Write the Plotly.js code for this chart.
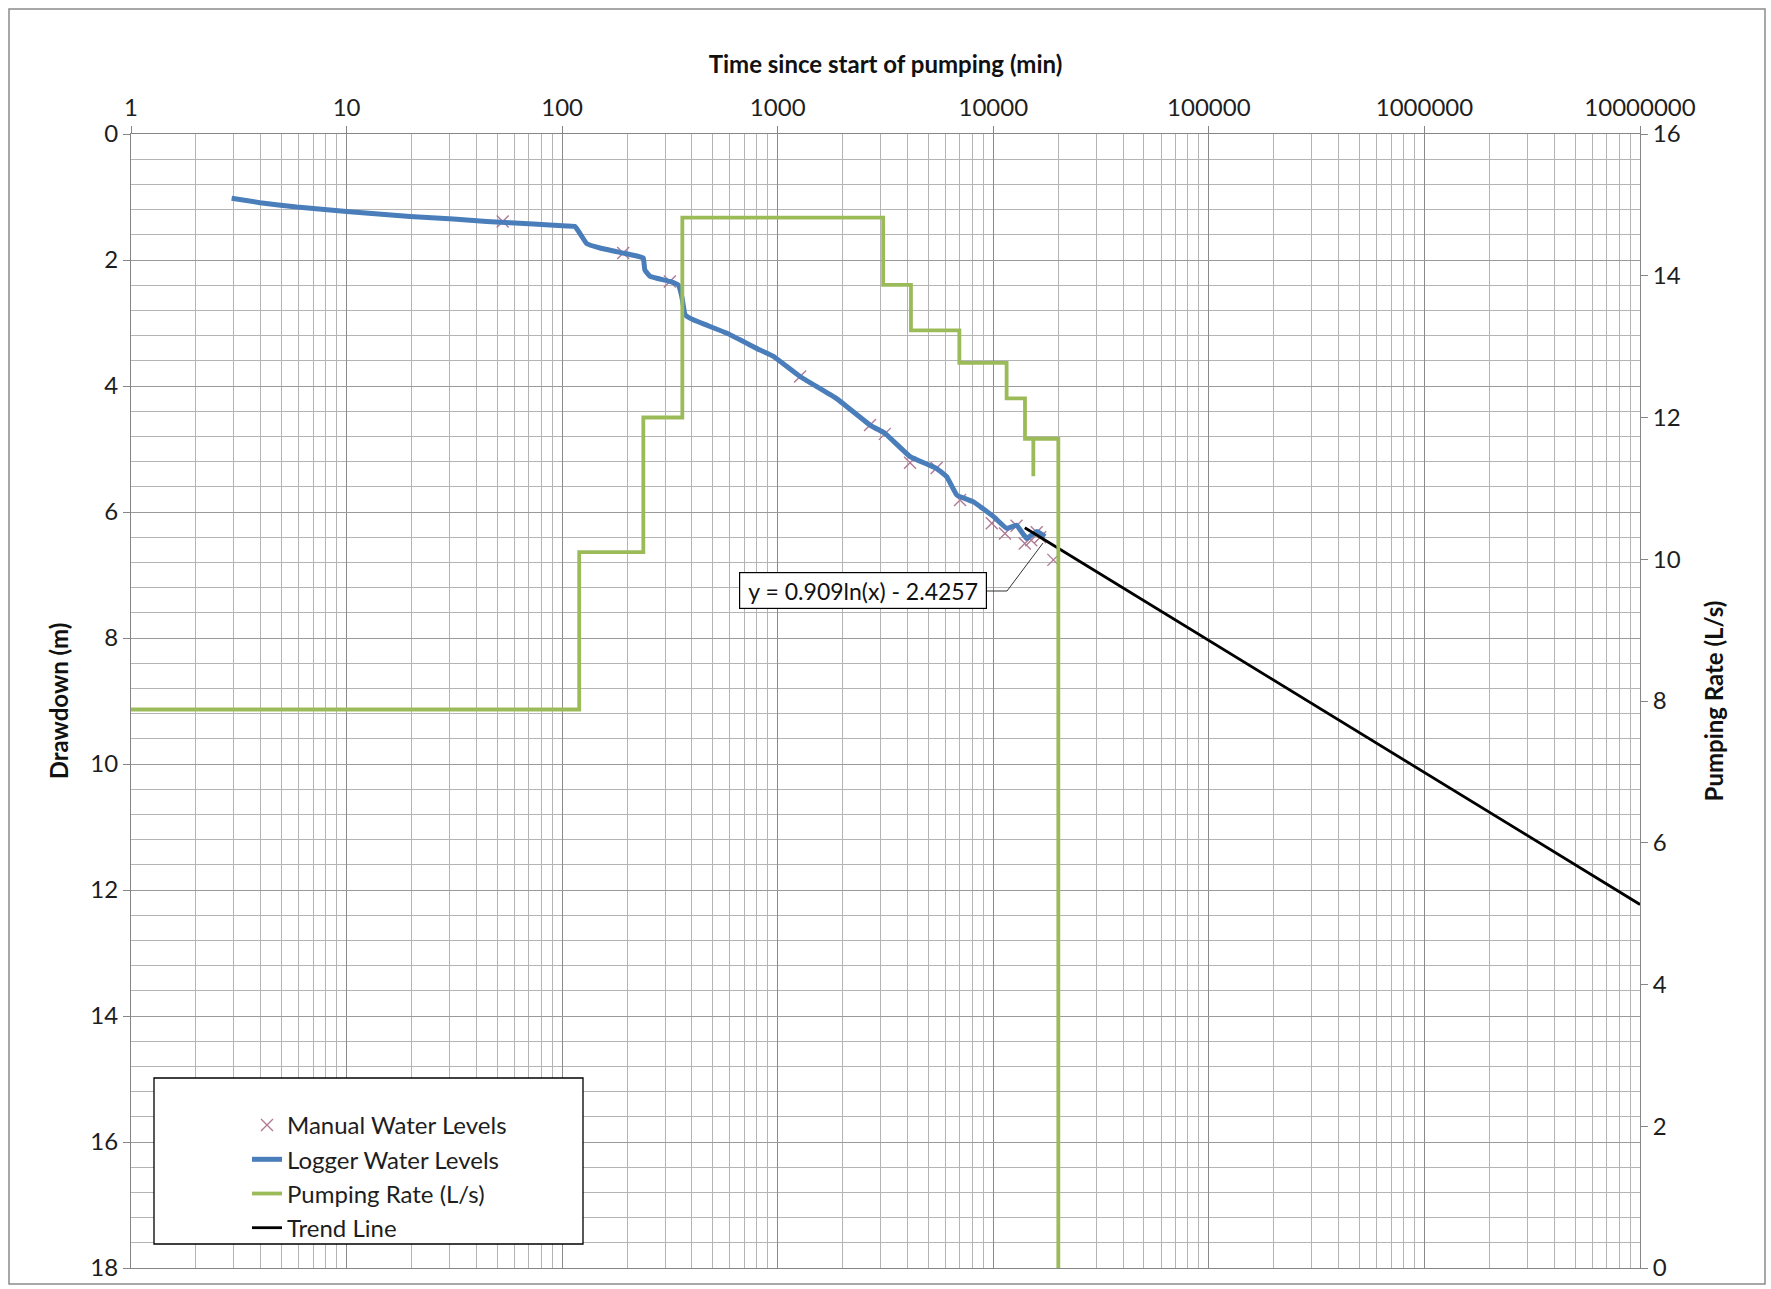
<!DOCTYPE html>
<html>
<head>
<meta charset="utf-8">
<script src="https://cdn.plot.ly/plotly-3.0.1.min.js"></script>
<style>html,body{margin:0;padding:0;background:#fff;}#chart{width:1771px;height:1289px;}</style>
</head>
<body>
<div id="chart"></div>
<script>
// ---- Data ----
const loggerTime = [2.93, 3.97, 5.87, 10, 19.7, 31.3, 44.7, 73.5, 105, 115, 121, 130, 150, 192, 230, 238, 242, 256, 316, 346, 359, 372, 406, 579, 828, 955, 1269, 1876, 2680, 3140, 4110, 5460, 6080, 6770, 8090, 10000, 11540, 12820, 14290, 15900, 17380];
const loggerDrawdown = [1.02, 1.09, 1.16, 1.23, 1.31, 1.35, 1.39, 1.43, 1.46, 1.47, 1.58, 1.74, 1.81, 1.89, 1.95, 1.97, 2.16, 2.26, 2.34, 2.40, 2.58, 2.87, 2.95, 3.16, 3.43, 3.53, 3.85, 4.20, 4.62, 4.75, 5.12, 5.31, 5.44, 5.73, 5.84, 6.07, 6.26, 6.21, 6.42, 6.31, 6.39];

const manualTime = [53, 192, 316, 1270, 2680, 3140, 4110, 5460, 7010, 9840, 11330, 12820, 14000, 15000, 15900, 16500, 19000];
const manualDrawdown = [1.39, 1.89, 2.34, 3.85, 4.62, 4.76, 5.22, 5.30, 5.81, 6.18, 6.34, 6.22, 6.50, 6.45, 6.32, 6.40, 6.76];

const pumpTime = [1, 120, 120, 238, 238, 361, 361, 3085, 3085, 4150, 4150, 6960, 6960, 11530, 11530, 14030, 14030, 15340, 15340, 15340, 20030, 20030];
const pumpRate = [7.88, 7.88, 10.1, 10.1, 12.0, 12.0, 14.82, 14.82, 13.87, 13.87, 13.23, 13.23, 12.77, 12.77, 12.27, 12.27, 11.7, 11.7, 11.17, 11.7, 11.7, 0];

const trendTime = [14000, 100000, 1000000, 10000000];
const trendDrawdown = [6.25, 8.04, 10.13, 12.23];

const xTickVals = [1, 10, 100, 1000, 10000, 100000, 1000000, 10000000];
const xTickText = ['1', '10', '100', '1000', '10000', '100000', '1000000', '10000000'];
const yLeftTicks = [0, 2, 4, 6, 8, 10, 12, 14, 16, 18];
const yRightTicks = [0, 2, 4, 6, 8, 10, 12, 14, 16];

const equationText = 'y = 0.909ln(x) - 2.4257';

// ---- Chart ----
const FONT = 'Lato, "Open Sans", sans-serif';
const AXIS_GRAY = '#868686';
const TXT = '#1e1e1e';

const traces = [
  {
    name: 'Manual Water Levels', x: manualTime, y: manualDrawdown,
    type: 'scatter', mode: 'markers', yaxis: 'y',
    marker: {symbol: 'x-thin-open', size: 12, color: '#b07a95', line: {width: 1.4, color: '#b07a95'}}
  },
  {
    name: 'Logger Water Levels', x: loggerTime, y: loggerDrawdown,
    type: 'scatter', mode: 'lines', yaxis: 'y',
    line: {color: '#4a7ebb', width: 5, shape: 'spline', smoothing: 0.3}
  },
  {
    name: 'Pumping Rate (L/s)', x: pumpTime, y: pumpRate,
    type: 'scatter', mode: 'lines', yaxis: 'y2',
    line: {color: '#9bbb59', width: 3.8}
  },
  {
    name: 'Trend Line', x: trendTime, y: trendDrawdown,
    type: 'scatter', mode: 'lines', yaxis: 'y',
    line: {color: '#000000', width: 2.8}
  }
];

const PX = {l: 131, r: 1640, t: 134, b: 1268};
const W = PX.r - PX.l, H = PX.b - PX.t;
const px2paperX = x => (x - PX.l) / W;
const px2paperY = y => (PX.b - y) / H;

const layout = {
  width: 1771, height: 1289,
  margin: {l: 131, r: 131, t: 134, b: 21, pad: 0},
  paper_bgcolor: '#ffffff', plot_bgcolor: '#ffffff',
  font: {family: FONT, size: 24, color: TXT},
  showlegend: true,
  legend: {
    x: px2paperX(247), y: px2paperY(1103), xanchor: 'left', yanchor: 'top',
    bgcolor: 'rgba(0,0,0,0)', borderwidth: 0,
    font: {family: FONT, size: 24, color: TXT},
    tracegroupgap: 0
  },
  xaxis: {
    type: 'log', range: [0, 7], side: 'top',
    tickmode: 'array', tickvals: xTickVals, ticktext: xTickText,
    ticks: 'outside', ticklen: 7, tickcolor: AXIS_GRAY, tickwidth: 1,
    showline: true, linecolor: AXIS_GRAY, linewidth: 1, mirror: true,
    showgrid: true, gridcolor: '#8a8a8a', gridwidth: 1,
    minor: {dtick: 'D1', showgrid: true, gridcolor: '#b4b4b4', gridwidth: 1, ticks: ''},
    zeroline: false,
    tickfont: {family: FONT, size: 24, color: TXT},
    title: {text: '<b>Time since start of pumping (min)</b>', standoff: 12,
            font: {family: FONT, size: 24, color: '#111111'}}
  },
  yaxis: {
    range: [18, 0], tickmode: 'array', tickvals: yLeftTicks,
    ticks: 'outside', ticklen: 7, tickcolor: AXIS_GRAY,
    showline: true, linecolor: AXIS_GRAY, linewidth: 1,
    showgrid: true, gridcolor: '#9a9a9a', gridwidth: 1,
    minor: {dtick: 0.4, showgrid: true, gridcolor: '#b4b4b4', gridwidth: 1, ticks: ''},
    zeroline: false,
    tickfont: {family: FONT, size: 24, color: TXT},
    title: {text: '<b>Drawdown (m)</b>', standoff: 14,
            font: {family: FONT, size: 24, color: '#111111'}}
  },
  yaxis2: {
    overlaying: 'y', side: 'right', range: [0, 16],
    tickmode: 'array', tickvals: yRightTicks,
    ticks: 'outside', ticklen: 7, tickcolor: AXIS_GRAY,
    showline: true, linecolor: AXIS_GRAY, linewidth: 1,
    showgrid: false, zeroline: false,
    tickfont: {family: FONT, size: 24, color: TXT},
    title: {text: '<b>Pumping Rate (L/s)</b>', standoff: 26,
            font: {family: FONT, size: 24, color: '#111111'}}
  },
  shapes: [
    // outer chart border
    {type: 'rect', xref: 'paper', yref: 'paper', layer: 'below',
     x0: px2paperX(9), x1: px2paperX(1765), y0: px2paperY(1284), y1: px2paperY(9),
     line: {color: '#8c8c8c', width: 1.5}, fillcolor: 'rgba(0,0,0,0)'},
    // legend frame
    {type: 'rect', xref: 'paper', yref: 'paper', layer: 'above',
     x0: px2paperX(154), x1: px2paperX(583), y0: px2paperY(1244), y1: px2paperY(1078),
     line: {color: '#000000', width: 1.3}, fillcolor: '#ffffff'},
    // equation leader line
    {type: 'path', xref: 'paper', yref: 'paper', layer: 'above',
     path: 'M ' + px2paperX(987) + ' ' + px2paperY(591) + ' L ' + px2paperX(1007) + ' ' + px2paperY(591) +
           ' L ' + px2paperX(1043) + ' ' + px2paperY(543),
     line: {color: '#333333', width: 1}}
  ],
  annotations: [
    {xref: 'paper', yref: 'paper', x: px2paperX(863), y: px2paperY(590),
     xanchor: 'center', yanchor: 'middle', showarrow: false,
     text: equationText, font: {family: FONT, size: 23, color: '#111111'},
     bgcolor: '#ffffff', bordercolor: '#000000', borderwidth: 1.2,
     width: 242, height: 31, borderpad: 2}
  ]
};

Plotly.newPlot('chart', traces, layout, {displayModeBar: false, staticPlot: true});
</script>
</body>
</html>
